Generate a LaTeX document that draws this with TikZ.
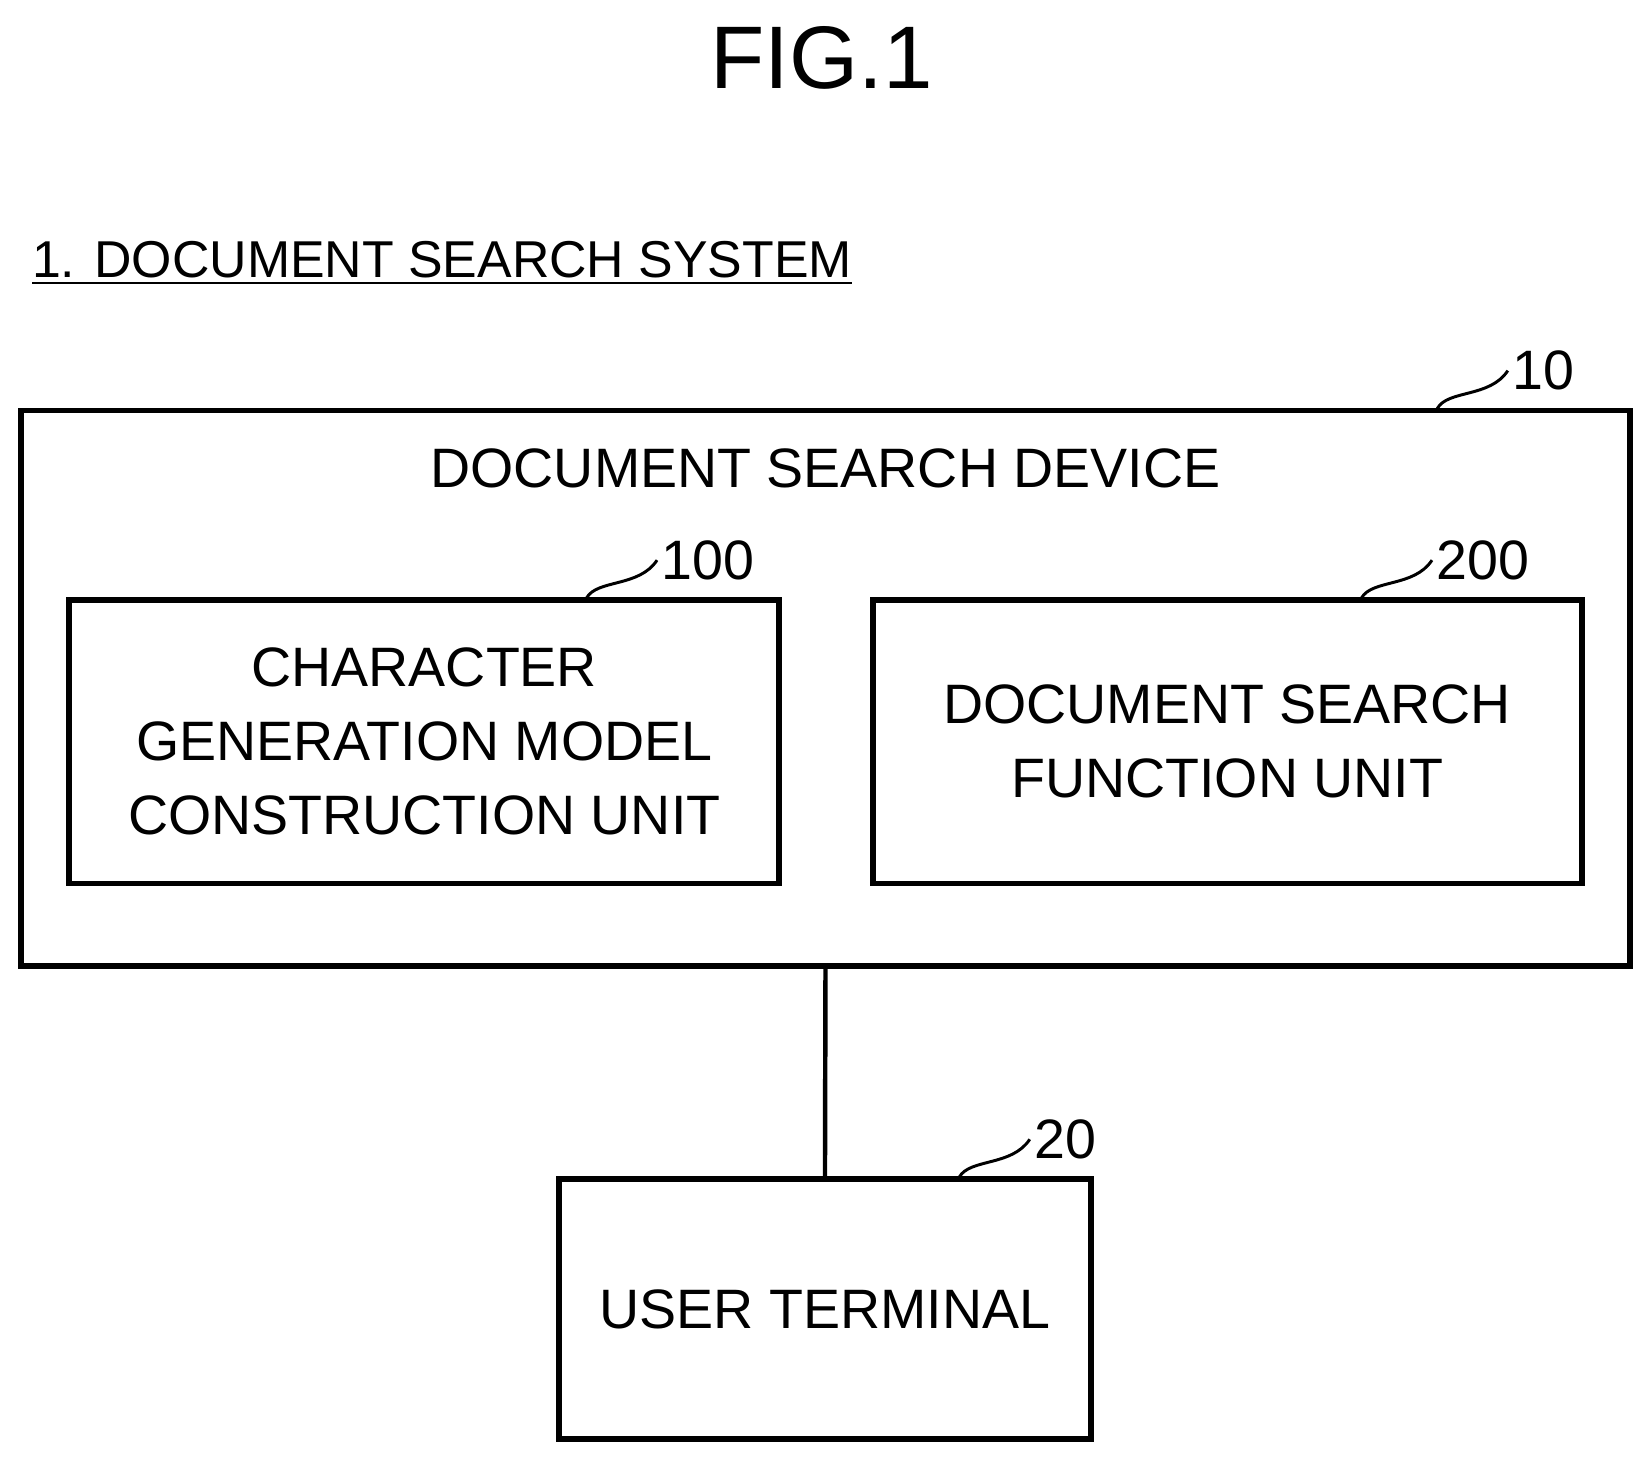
\documentclass[tikz,border=0pt]{standalone}
\usepackage{fontspec}
\setmainfont{Liberation Sans}
\usetikzlibrary{positioning}

\begin{document}
\begin{tikzpicture}[x=0.01cm,y=-0.01cm,
  box/.style={draw,line width=1.6pt,inner sep=0pt,align=center,font=\fontsize{15}{20}\selectfont},
  lead/.style={line width=0.8pt},
  num/.style={font=\fontsize{15}{18}\selectfont,anchor=west,inner sep=1pt}
]
\useasboundingbox (0,0) rectangle (1568,1388);

% titles
\node (fig) at (780,55) {\fontsize{24}{28}\selectfont FIG.1};
\node[anchor=west] (sys) at (18,250) {\fontsize{14}{17}\selectfont\underline{1. DOCUMENT SEARCH SYSTEM}};

% the boxes
\node[box,minimum width=15.28cm,minimum height=5.27cm] (dev) at (784,653.5) {};
\node (devt) at (784,445) {\fontsize{15}{18}\selectfont DOCUMENT SEARCH DEVICE};
\node[box,minimum width=6.74cm,minimum height=2.69cm] (cgm) at (403,704.5)
  {CHARACTER\\GENERATION MODEL\\CONSTRUCTION UNIT};
\node[box,minimum width=6.73cm,minimum height=2.69cm] (dsf) at (1165.5,704.5)
  {DOCUMENT SEARCH\\FUNCTION UNIT};
\node[box,minimum width=5.05cm,minimum height=2.47cm] (ut) at (783.5,1243.5) {USER TERMINAL};

% the connection
\draw[line width=1.2pt] (dev.south) -- (ut.north);

% reference numerals
\node[num] (n10) at (1432,352) {10};
\node[num] (n100) at (624,532) {100};
\node[num] (n200) at (1360,532) {200};
\node[num] (n20) at (978,1082) {20};
\draw[lead] (1365,388) .. controls (1375,370) and (1415,378) .. (n10.west);
\draw[lead] (557,568) .. controls (567,550) and (607,558) .. (n100.west);
\draw[lead] (1293,568) .. controls (1303,550) and (1343,558) .. (n200.west);
\draw[lead] (911,1118) .. controls (921,1100) and (961,1108) .. (n20.west);
\end{tikzpicture}
\end{document}
